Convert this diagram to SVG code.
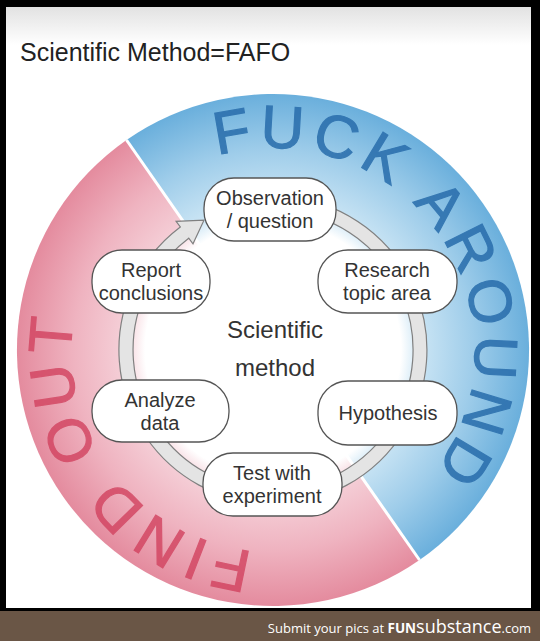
<svg xmlns="http://www.w3.org/2000/svg" width="540" height="641" viewBox="0 0 540 641">
<defs>
<linearGradient id="topfade" x1="0" y1="7" x2="0" y2="45" gradientUnits="userSpaceOnUse">
<stop offset="0" stop-color="#e2e2e2"/><stop offset="1" stop-color="#ffffff"/>
</linearGradient>
<radialGradient id="blueG" cx="273" cy="350" r="256" gradientUnits="userSpaceOnUse">
<stop offset="0" stop-color="#ffffff"/><stop offset="0.5" stop-color="#ffffff"/><stop offset="0.58" stop-color="#c9e4f4"/><stop offset="0.78" stop-color="#9fcdea"/><stop offset="1" stop-color="#6aafdc"/>
</radialGradient>
<radialGradient id="pinkG" cx="273" cy="350" r="256" gradientUnits="userSpaceOnUse">
<stop offset="0" stop-color="#ffffff"/><stop offset="0.5" stop-color="#ffffff"/><stop offset="0.58" stop-color="#f5d0d8"/><stop offset="0.78" stop-color="#efb3c0"/><stop offset="1" stop-color="#e48b9e"/>
</radialGradient>
<path id="arcText" d="M 217.3 155.8 A 202 202 0 0 1 328.7 544.2 A 202 202 0 0 1 217.3 155.8"/>
<style>
.box{fill:#ffffff;stroke:#555555;stroke-width:1.3}
.lbl{font-family:"Liberation Sans",Arial,sans-serif;font-size:20px;fill:#333333;text-anchor:middle}
.center{font-family:"Liberation Sans",Arial,sans-serif;font-size:24px;fill:#333333;text-anchor:middle}
.big{font-family:"Liberation Sans",Arial,sans-serif;font-size:60px;letter-spacing:6.5px;stroke-width:1.2}
</style>
</defs>
<rect x="0" y="0" width="540" height="641" fill="#000000"/>
<rect x="6" y="7" width="525" height="601" fill="#ffffff"/>
<rect x="6" y="7" width="525" height="40" fill="url(#topfade)"/>
<rect x="0" y="611" width="540" height="30" fill="#6a5646"/>
<text x="531" y="633" font-family="'Open Sans','DejaVu Sans',sans-serif" fill="#ffffff" text-anchor="end"><tspan font-size="13">Submit your pics at </tspan><tspan font-size="13.5" font-weight="bold">FUN</tspan><tspan font-size="18">substance</tspan><tspan font-size="13">.com</tspan></text>
<text x="20" y="61" font-family="'Liberation Sans',Arial,sans-serif" font-size="25" fill="#222222">Scientific Method=FAFO</text>
<g id="disc">
<path d="M 273 350 L 126.5 140 A 256 256 0 0 1 419.5 560 Z" fill="url(#blueG)"/>
<path d="M 273 350 L 419.5 560 A 256 256 0 0 1 126.5 140 Z" fill="url(#pinkG)"/>
<line x1="126.5" y1="140" x2="419.5" y2="560" stroke="#ffffff" stroke-width="3"/>
<circle cx="273" cy="350" r="128" fill="#ffffff"/>
<text class="big" fill="#2b6fad" stroke="#2b6fad" opacity="0.88"><textPath href="#arcText" startOffset="0">FUCK AROUND</textPath></text>
<text class="big" fill="#d2425f" stroke="#d2425f" opacity="0.8"><textPath href="#arcText" startOffset="710.7">FIND OUT</textPath></text>
</g>
<g id="connectors">
<path d="M 220.3 205.3 A 154 154 0 1 1 180.3 227.0 L 176.1 221.4 L 204.0 220.2 L 193.0 243.8 L 188.7 238.2 A 140 140 0 1 0 225.1 218.4 Z" fill="#e4e4e4" stroke="#808080" stroke-width="1.2" stroke-linejoin="miter"/>
</g>
<g id="center-label">
<text class="center" x="275" y="338">Scientific</text>
<text class="center" x="275" y="376">method</text>
</g>
<g id="observation">
<rect class="box" x="204" y="178" width="132" height="63" rx="30"/>
<text class="lbl" x="270" y="205">Observation</text>
<text class="lbl" x="270" y="228">/ question</text>
</g>
<g id="research">
<rect class="box" x="318" y="250" width="139" height="63" rx="30"/>
<text class="lbl" x="387" y="277">Research</text>
<text class="lbl" x="387" y="300">topic area</text>
</g>
<g id="hypothesis">
<rect class="box" x="318" y="381" width="139" height="64" rx="30"/>
<text class="lbl" x="388" y="420">Hypothesis</text>
</g>
<g id="test">
<rect class="box" x="203" y="453" width="139" height="63" rx="30"/>
<text class="lbl" x="272" y="480">Test with</text>
<text class="lbl" x="272" y="503">experiment</text>
</g>
<g id="analyze">
<rect class="box" x="92" y="380" width="137" height="62" rx="30"/>
<text class="lbl" x="160" y="407">Analyze</text>
<text class="lbl" x="160" y="430">data</text>
</g>
<g id="report">
<rect class="box" x="92" y="250" width="118" height="63" rx="30"/>
<text class="lbl" x="151" y="277">Report</text>
<text class="lbl" x="151" y="300">conclusions</text>
</g>
</svg>
